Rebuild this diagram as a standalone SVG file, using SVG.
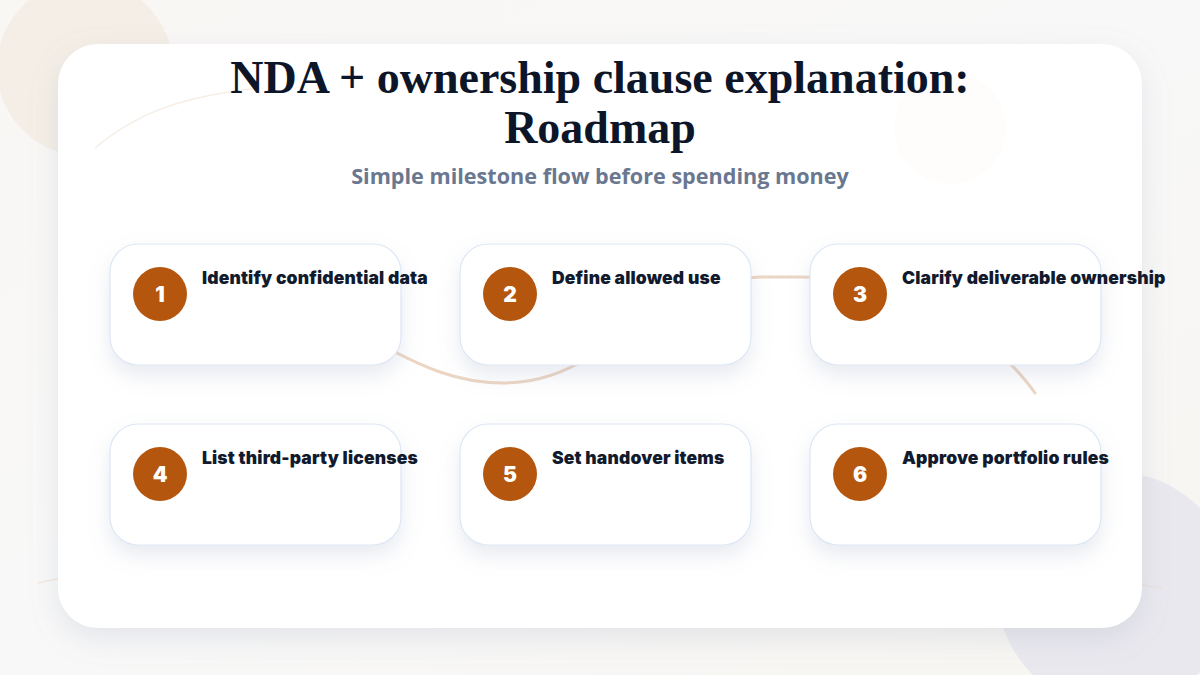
<svg xmlns="http://www.w3.org/2000/svg" width="1200" height="675" viewBox="0 0 1200 675">
  <defs>
    <filter id="shadowMain" x="-10%" y="-10%" width="120%" height="130%">
      <feDropShadow dx="0" dy="10" stdDeviation="14" flood-color="#9aa3b8" flood-opacity="0.22"/>
    </filter>
    <filter id="shadowCard" x="-15%" y="-20%" width="130%" height="160%">
      <feDropShadow dx="0" dy="10" stdDeviation="10" flood-color="#8f9ab5" flood-opacity="0.2"/>
    </filter>
    <linearGradient id="bg" x1="0" y1="0" x2="1" y2="1">
      <stop offset="0" stop-color="#f9f7f4"/>
      <stop offset="0.5" stop-color="#f8f8f8"/>
      <stop offset="1" stop-color="#f7f5f1"/>
    </linearGradient>
  </defs>
  <style>
    .card { fill: #ffffff; stroke: #dde7f5; stroke-width: 1.2; }
    .badge { fill: #b5560e; }
    .num { font-family: Inter, "DejaVu Sans", sans-serif; font-weight: 900; font-size: 21px; fill: #ffffff; text-anchor: middle; }
    .label { font-family: Inter, "DejaVu Sans", sans-serif; font-weight: 900; font-size: 17.5px; letter-spacing: 0.15px; fill: #121a2d; }
    .title { font-family: "Liberation Serif", "DejaVu Serif", serif; font-weight: bold; font-size: 46px; fill: #0d1629; text-anchor: middle; }
    .subtitle { font-family: "Open Sans", "Liberation Sans", sans-serif; font-weight: 700; font-size: 21.6px; fill: #6a7790; text-anchor: middle; }
    .flow { fill: none; stroke: #ebd6c4; stroke-width: 3; stroke-linecap: round; }
    .faint { fill: none; stroke: #eddccc; stroke-width: 1.5; opacity: 0.5; }
  </style>

  <!-- background -->
  <rect x="0" y="0" width="1200" height="675" fill="url(#bg)"/>
  <circle cx="85" cy="68" r="88" fill="#f3ebe2" opacity="0.8"/>
  <circle cx="1115" cy="590" r="118" fill="#e7e7ed" opacity="0.9"/>
  <path class="faint" d="M 38 583 C 200 545 420 535 600 550 C 800 565 1000 560 1162 588"/>

  <!-- main panel -->
  <g id="panel">
    <rect x="58" y="44" width="1084" height="584" rx="40" fill="#ffffff" filter="url(#shadowMain)"/>
    <circle cx="950" cy="128" r="56" fill="#fefcfa" opacity="0.6"/>
    <path class="faint" d="M 95 148 C 140 110 190 95 260 88" opacity="0.1"/>
  </g>

  <g id="title">
    <text class="title" x="600" y="93">NDA + ownership clause explanation:</text>
    <text class="title" x="600" y="143">Roadmap</text>
    <text class="subtitle" x="600" y="184">Simple milestone flow before spending money</text>
  </g>

  <!-- connectors -->
  <g id="connectors">
    <path class="flow" d="M 340 320 Q 400 358 440 372 Q 480 386 520 382 Q 560 378 600 350 Q 680 280 760 277 L 800 277 Q 900 277 960 320 Q 1012 360 1035 393"/>
  </g>

  <!-- nodes -->
  <g id="node1">
    <rect class="card" x="110" y="244" width="291" height="121" rx="28" filter="url(#shadowCard)"/>
    <circle class="badge" cx="160" cy="294" r="27"/>
    <text class="num" x="160" y="301.5">1</text>
    <text class="label" x="202" y="284">Identify confidential data</text>
  </g>
  <g id="node2">
    <rect class="card" x="460" y="244" width="291" height="121" rx="28" filter="url(#shadowCard)"/>
    <circle class="badge" cx="510" cy="294" r="27"/>
    <text class="num" x="510" y="301.5">2</text>
    <text class="label" x="552" y="284">Define allowed use</text>
  </g>
  <g id="node3">
    <rect class="card" x="810" y="244" width="291" height="121" rx="28" filter="url(#shadowCard)"/>
    <circle class="badge" cx="860" cy="294" r="27"/>
    <text class="num" x="860" y="301.5">3</text>
    <text class="label" x="902" y="284">Clarify deliverable ownership</text>
  </g>
  <g id="node4">
    <rect class="card" x="110" y="424" width="291" height="121" rx="28" filter="url(#shadowCard)"/>
    <circle class="badge" cx="160" cy="474" r="27"/>
    <text class="num" x="160" y="481.5">4</text>
    <text class="label" x="202" y="464">List third-party licenses</text>
  </g>
  <g id="node5">
    <rect class="card" x="460" y="424" width="291" height="121" rx="28" filter="url(#shadowCard)"/>
    <circle class="badge" cx="510" cy="474" r="27"/>
    <text class="num" x="510" y="481.5">5</text>
    <text class="label" x="552" y="464">Set handover items</text>
  </g>
  <g id="node6">
    <rect class="card" x="810" y="424" width="291" height="121" rx="28" filter="url(#shadowCard)"/>
    <circle class="badge" cx="860" cy="474" r="27"/>
    <text class="num" x="860" y="481.5">6</text>
    <text class="label" x="902" y="464">Approve portfolio rules</text>
  </g>
</svg>
